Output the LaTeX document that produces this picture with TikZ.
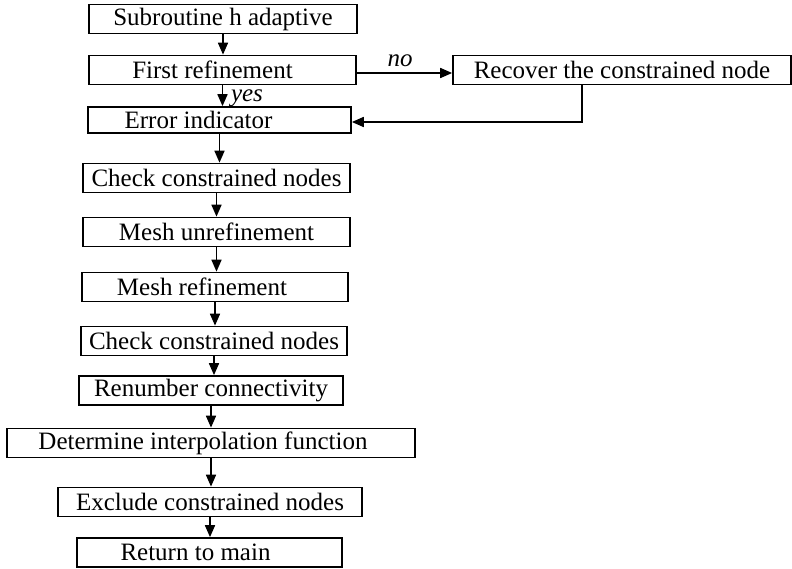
\documentclass[tikz,border=0pt]{standalone}
\usepackage{fontspec}
\setmainfont{Liberation Serif}
\usepackage{tikz}
\usetikzlibrary{arrows.meta,positioning}
\newcommand\lft[2]{\hspace*{-#1}#2}

\begin{document}
\begin{tikzpicture}[x=0.5pt,y=-0.5pt,
  every node/.style={font=\fontsize{12.5}{14}\selectfont},
  bx/.style={draw,line width=0.85pt,inner sep=0pt,minimum height=14.5pt},
  lb/.style={font=\fontsize{12.5}{14}\selectfont\itshape,inner sep=0pt},
  ar/.style={line width=0.85pt,-{Triangle[length=6pt,width=5pt]}}]
 \useasboundingbox (0,0) rectangle (792,568);
 \node[bx,minimum width=134pt]   (sub)  at (223,19)    {Subroutine h adaptive};
 \node[bx,minimum width=133.5pt] (fst)  at (222.5,70)  {\lft{10pt}{First refinement}};
 \node[bx,minimum width=169pt]   (rec)  at (622,70)    {Recover the constrained node};
 \node[bx,minimum width=131.5pt,minimum height=13pt] (err) at (219.5,120) {\lft{21pt}{Error indicator}};
 \node[bx,minimum width=133.5pt] (chk1) at (216.5,178) {Check constrained nodes};
 \node[bx,minimum width=133.5pt] (unr)  at (216.5,232) {Mesh unrefinement};
 \node[bx,minimum width=133pt]   (ref)  at (215,287)   {\lft{13pt}{Mesh refinement}};
 \node[bx,minimum width=133pt]   (chk2) at (214,341)   {Check constrained nodes};
 \node[bx,minimum width=132pt]   (ren)  at (211,390.5) {Renumber connectivity};
 \node[bx,minimum width=204pt]   (det)  at (211,443)   {\lft{8pt}{Determine interpolation function}};
 \node[bx,minimum width=152pt]   (exc)  at (210,502)   {Exclude constrained nodes};
 \node[bx,minimum width=132.5pt] (ret)  at (209.5,552.5) {\lft{14pt}{Return to main}};
 \node[lb] (no)  at (400,61) {no};
 \node[lb] (yes) at (247,98) {yes};
 \foreach \a/\b in {sub/fst,fst/err,err/chk1,chk1/unr,unr/ref,ref/chk2,chk2/ren,ren/det,det/exc,exc/ret}
   \draw[ar] (\a.south) -- (\a.south |- \b.north);
 \draw[ar] ([yshift=-1.5pt]fst.east) -- ([yshift=-1.5pt]fst.east -| rec.west);
 \draw[ar] ([xshift=-20pt]rec.south) |- ([yshift=-1pt]err.east);
\end{tikzpicture}
\end{document}
